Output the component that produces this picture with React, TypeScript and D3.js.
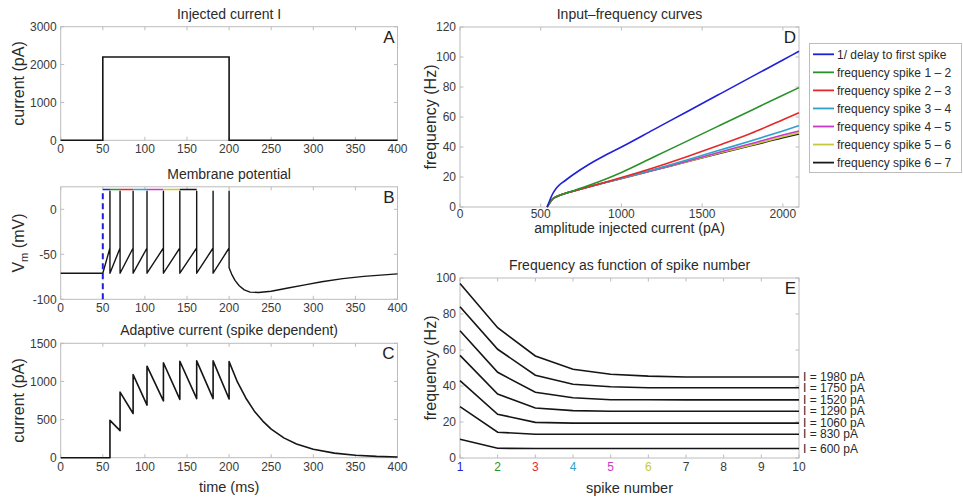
import * as d3 from "d3";
import React from "react";

// ---- panel A: injected current step
const stepTime = [0, 50, 50, 200, 200, 400];
const stepCurrent = [0, 0, 2200, 2200, 0, 0];

// ---- panel B: membrane potential
const spikeTimes = [58.5, 70.5, 86, 102.5, 122, 141.5, 161.5, 181, 200];
const vRest = -71;
const vThreshold = -43;
const vPeak = 20;
const vMarker = 22;
const postTime = [200, 203, 207, 212, 218, 225, 235, 250, 270, 290, 310, 335, 360, 400];
const postV = [-65, -72, -79, -85, -89.5, -92, -92.5, -91, -87.5, -84, -80.5, -77, -74.5, -71.8];

// ---- panel C: adaptive current (value right before / after each spike)
const wTrough = [0, 355, 580, 690, 745, 765, 775, 775, 770];
const wPeak = [490, 860, 1090, 1200, 1245, 1265, 1270, 1270, 1260];
const decayTime = [200, 210, 220, 230, 240, 250, 265, 280, 300, 325, 350, 375, 400];
const decayW = [1260, 990, 780, 610, 480, 375, 260, 180, 110, 60, 32, 17, 9];

// ---- panel D: input-frequency curves
const dCurrent = [540, 560, 575, 600, 650, 700, 800, 900, 1000, 1200, 1400, 1600, 1800, 2000, 2100];
const fDelay = [0, 5.5, 9, 13, 17.5, 21.5, 28.5, 34.5, 40, 51.6, 63.2, 74.8, 86.4, 98, 103.8];
const f12 = [0, 3.5, 5.5, 7, 9, 10.8, 14.5, 18.5, 23, 33.3, 43.6, 53.9, 64.2, 74.5, 79.6];
const f23 = [0, 3.5, 5.5, 7, 9, 10.5, 13.5, 16.5, 19.6, 26.2, 33.4, 41, 49, 58.2, 62.9];
const f34 = [0, 3.5, 5.5, 7, 9, 10.5, 13.5, 16.3, 19.1, 25, 31.2, 37.6, 44, 50.7, 54.2];
const f45 = [0, 3.5, 5.5, 7, 9, 10.5, 13.5, 16.3, 19, 24.7, 30.4, 36.3, 42.1, 48, 50.7];
const f56 = [0, 3.5, 5.5, 7, 9, 10.5, 13.5, 16.3, 19, 24.6, 30.1, 35.8, 41.2, 46.8, 49.5];
const f67 = [0, 3.5, 5.5, 7, 9, 10.5, 13.5, 16.3, 19, 24.5, 30, 35.5, 40.8, 46.2, 48.7];
const legendNames = [
  "1/ delay to first spike",
  "frequency spike 1 \u2013 2",
  "frequency spike 2 \u2013 3",
  "frequency spike 3 \u2013 4",
  "frequency spike 4 \u2013 5",
  "frequency spike 5 \u2013 6",
  "frequency spike 6 \u2013 7",
];
const seriesColors = ["#2020d8", "#2a922a", "#e62828", "#2ea2cc", "#c63ac6", "#c8c83c", "#1a1a1a"];

// ---- panel E: frequency vs spike number
const spikeNumbers = [1, 2, 3, 4, 5, 6, 7, 8, 9, 10];
const eCurrents = [1980, 1750, 1520, 1290, 1060, 830, 600];
const f1980 = [97, 72.4, 56.7, 49.3, 46.5, 45.5, 45, 45, 45, 45];
const f1750 = [84, 60.4, 46, 41, 39.6, 39, 39, 39, 39, 39];
const f1520 = [70.7, 47.6, 36.5, 33.5, 32.4, 32.4, 32.3, 32.3, 32.3, 32.3];
const f1290 = [57, 35.5, 27.8, 26.3, 26, 26, 26, 26, 26, 26];
const f1060 = [43, 24.3, 19.8, 19.4, 19.4, 19.4, 19.4, 19.4, 19.4, 19.4];
const f830 = [28.5, 14.3, 13.2, 13.2, 13.2, 13.2, 13.2, 13.2, 13.2, 13.2];
const f600 = [10.4, 5.4, 5.3, 5.3, 5.3, 5.3, 5.3, 5.3, 5.3, 5.3];

// ticks
const timeTicks = [0, 50, 100, 150, 200, 250, 300, 350, 400];
const aTicks = [0, 1000, 2000, 3000];
const bTicks = [-100, -50, 0];
const cTicks = [0, 500, 1000, 1500];
const dxTicks = [0, 500, 1000, 1500, 2000];
const dyTicks = [0, 20, 40, 60, 80, 100, 120];
const eyTicks = [0, 20, 40, 60, 80, 100];

const FONT = "'Liberation Sans', Arial, Helvetica, sans-serif";
const FRAME = "#bcbcbc";
const TXT = "#3a3a3a";
const LINE = "#151515";

type Pt = [number, number];

function Axes(props: {
  x: d3.ScaleLinear<number, number>;
  y: d3.ScaleLinear<number, number>;
  xTicks: number[];
  yTicks: number[];
  xTickColors?: string[];
  title: string;
  letter: string;
  xLabel?: React.ReactNode;
  yLabel?: React.ReactNode;
  xLabelGap?: number;
  xLabelSize?: number;
  tickGap?: number;
  yLabelX: number;
}) {
  const { x, y, xTicks, yTicks, xTickColors, title, letter, xLabel, yLabel, xLabelGap, yLabelX } = props;
  const tickGap = props.tickGap || 13;
  const [x0, x1] = x.range();
  const [y0, y1] = y.range(); // y0 bottom, y1 top
  const tl = 3.5;
  return (
    <g fontFamily={FONT}>
      <rect x={x0} y={y1} width={x1 - x0} height={y0 - y1} fill="none" stroke={FRAME} />
      {xTicks.map((t) => (
        <g key={"x" + t}>
          <line x1={x(t)} x2={x(t)} y1={y0} y2={y0 - tl} stroke={FRAME} />
          <line x1={x(t)} x2={x(t)} y1={y1} y2={y1 + tl} stroke={FRAME} />
        </g>
      ))}
      {yTicks.map((t) => (
        <g key={"y" + t}>
          <line x1={x0} x2={x0 + tl} y1={y(t)} y2={y(t)} stroke={FRAME} />
          <line x1={x1} x2={x1 - tl} y1={y(t)} y2={y(t)} stroke={FRAME} />
        </g>
      ))}
      {xTicks.map((t, i) => (
        <text key={"xl" + t} x={x(t)} y={y0 + tickGap} fontSize={12} textAnchor="middle"
          fill={xTickColors ? xTickColors[i] : TXT}>{t}</text>
      ))}
      {yTicks.map((t) => (
        <text key={"yl" + t} x={x0 - 4} y={y(t)} dy="0.35em" fontSize={12} textAnchor="end" fill={TXT}>
          {t}
        </text>
      ))}
      <text x={(x0 + x1) / 2} y={y1 - 8} fontSize={14} textAnchor="middle" fill="#2a2a2a">{title}</text>
      <text x={x1 - 3} y={y1 + 16} fontSize={17} textAnchor="end" fill="#222">{letter}</text>
      {xLabel && (
        <text x={(x0 + x1) / 2} y={y0 + (xLabelGap || 34)} fontSize={props.xLabelSize || 14.5}
          textAnchor="middle" fill="#2a2a2a">
          {xLabel}
        </text>
      )}
      {yLabel && (
        <text transform={`translate(${yLabelX},${(y0 + y1) / 2}) rotate(-90)`} dy="0.35em" fontSize={16}
          textAnchor="middle" fill="#2a2a2a">
          {yLabel}
        </text>
      )}
    </g>
  );
}

export default function App() {
  const tx = d3.scaleLinear().domain([0, 400]).range([60.7, 397.5]);
  const ay = d3.scaleLinear().domain([0, 3000]).range([140.3, 26.7]);
  const by = d3.scaleLinear().domain([-100, 25]).range([299.3, 186.8]);
  const cy = d3.scaleLinear().domain([0, 1500]).range([457.7, 343.3]);
  const dx = d3.scaleLinear().domain([0, 2100]).range([460, 799]);
  const dy = d3.scaleLinear().domain([0, 120]).range([207, 27]);
  const ex = d3.scaleLinear().domain([1, 10]).range([460, 799]);
  const ey = d3.scaleLinear().domain([0, 100]).range([458, 278]);

  // A
  const aLine = d3.line<Pt>().x((d) => tx(d[0])).y((d) => ay(d[1]));
  const aPts: Pt[] = stepTime.map((t, i) => [t, stepCurrent[i]]);

  // B
  const bLine = d3.line<Pt>().x((d) => tx(d[0])).y((d) => by(d[1]));
  const vPts: Pt[] = [[0, vRest], [50, vRest]];
  spikeTimes.forEach((t, i) => {
    vPts.push([t, vThreshold], [t, vPeak]);
    if (i < spikeTimes.length - 1) vPts.push([t, vRest]);
  });
  postTime.forEach((t, i) => vPts.push([t, postV[i]]));
  const markerStarts = [50, ...spikeTimes.slice(0, 6)];
  const markerEnds = spikeTimes.slice(0, 7);

  // C
  const cLine = d3.line<Pt>().x((d) => tx(d[0])).y((d) => cy(d[1]));
  const wPts: Pt[] = [[0, 0]];
  spikeTimes.forEach((t, i) => wPts.push([t, wTrough[i]], [t, wPeak[i]]));
  decayTime.forEach((t, i) => wPts.push([t, decayW[i]]));

  // D
  const dSeries = [fDelay, f12, f23, f34, f45, f56, f67];
  const dLine = d3
    .line<number>()
    .x((_, i) => dx(dCurrent[i]))
    .y((d) => dy(d))
    .curve(d3.curveMonotoneX);

  // E
  const eSeries = [f1980, f1750, f1520, f1290, f1060, f830, f600];
  const eLine = d3
    .line<number>()
    .x((_, i) => ex(spikeNumbers[i]))
    .y((d) => ey(d));
  const eTickColors = [...seriesColors.slice(0, 6), TXT, TXT, TXT, TXT];

  return (
    <svg width={963} height={500} style={{ position: "absolute", left: 0, top: 0, background: "#fff" }}>
      <Axes x={tx} y={ay} xTicks={timeTicks} yTicks={aTicks} title="Injected current I" letter="A"
        yLabel="current (pA)" yLabelX={18.5} />
      <path d={aLine(aPts) || ""} fill="none" stroke={LINE} strokeWidth={1.6} />

      <Axes x={tx} y={by} xTicks={timeTicks} yTicks={bTicks} title="Membrane potential" letter="B"
        yLabel={<>V<tspan fontSize="0.7em" dy="0.35em">m</tspan><tspan dy="-0.25em"> (mV)</tspan></>}
        yLabelX={18.5} />
      <path d={bLine(vPts) || ""} fill="none" stroke={LINE} strokeWidth={1.4} strokeLinejoin="round" />
      {markerStarts.map((s, i) => (
        <line key={"m" + i} x1={tx(s)} x2={tx(markerEnds[i])} y1={by(vMarker)} y2={by(vMarker)}
          stroke={seriesColors[i]} strokeWidth={1.5} />
      ))}
      <line x1={tx(50)} x2={tx(50)} y1={by(-100)} y2={by(vMarker)} stroke={seriesColors[0]}
        strokeWidth={2} strokeDasharray="6,4" />

      <Axes x={tx} y={cy} xTicks={timeTicks} yTicks={cTicks} title="Adaptive current (spike dependent)"
        letter="C" yLabel="current (pA)" yLabelX={18.5} xLabel="time (ms)" xLabelGap={34} />
      <path d={cLine(wPts) || ""} fill="none" stroke={LINE} strokeWidth={1.6} strokeLinejoin="round" />

      <Axes x={dx} y={dy} xTicks={dxTicks} yTicks={dyTicks} title={"Input\u2013frequency curves"} letter="D"
        yLabel="frequency (Hz)" yLabelX={430} xLabel="amplitude injected current (pA)" xLabelGap={26}
        xLabelSize={14} tickGap={11} />
      {dSeries
        .map((s, i) => ({ s, i }))
        .reverse()
        .map(({ s, i }) => (
          <path key={"d" + i} d={dLine(s) || ""} fill="none" stroke={seriesColors[i]} strokeWidth={1.6} />
        ))}
      <g fontFamily={FONT}>
        <rect x={809.5} y={43.5} width={152} height={129} fill="#fff" stroke={FRAME} />
        {legendNames.map((n, i) => (
          <g key={n}>
            <line x1={813} x2={834} y1={54.3 + i * 18.05} y2={54.3 + i * 18.05} stroke={seriesColors[i]}
              strokeWidth={1.8} />
            <text x={837} y={54.3 + i * 18.05} dy="0.35em" fontSize={12} fill="#2a2a2a">{n}</text>
          </g>
        ))}
      </g>

      <Axes x={ex} y={ey} xTicks={spikeNumbers} yTicks={eyTicks} xTickColors={eTickColors}
        title="Frequency as function of spike number" letter="E" yLabel="frequency (Hz)" yLabelX={430}
        xLabel="spike number" xLabelGap={35} />
      {eSeries.map((s, i) => (
        <g key={"e" + i}>
          <path d={eLine(s) || ""} fill="none" stroke={LINE} strokeWidth={1.6} />
          <text x={803} y={ey(s[s.length - 1])} dy="0.35em" fontSize={12} fontFamily={FONT} fill="#2a2a2a">
            {`I = ${eCurrents[i]} pA`}
          </text>
        </g>
      ))}
    </svg>
  );
}
